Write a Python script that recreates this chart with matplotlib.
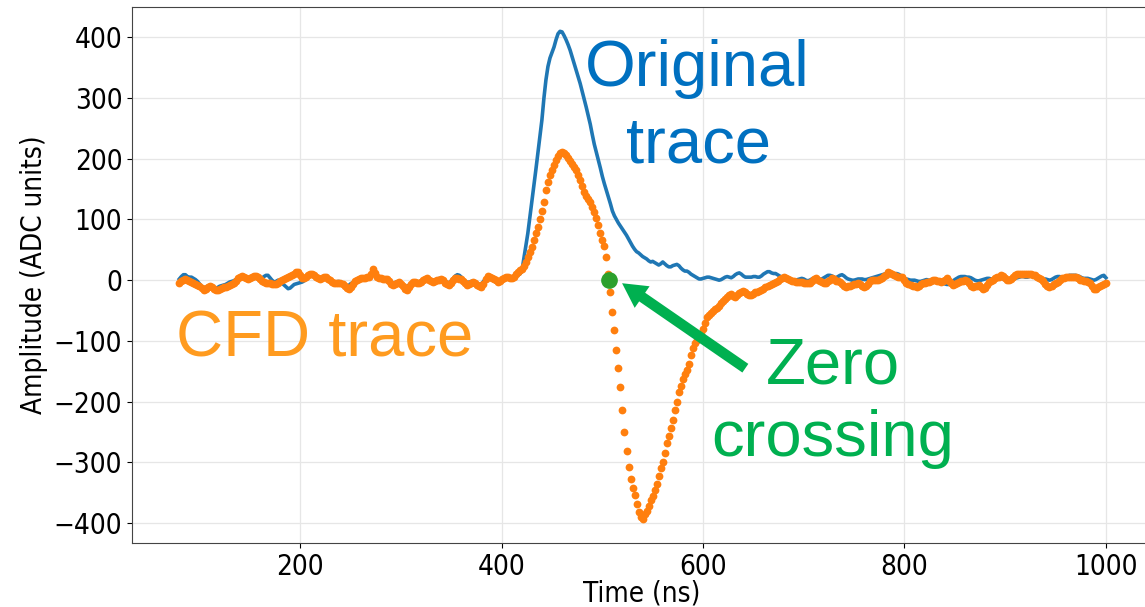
import numpy as np
import matplotlib
matplotlib.use("Agg")
import matplotlib.pyplot as plt

plt.rcParams['font.family'] = ['DejaVu Sans']
plt.rcParams['font.stretch'] = 'condensed'

# sampling of both traces (ns)
t_start = 80
t_step = 2

# CFD trace (ADC units), one row = 20 ns
cfd_trace = [
    -5, -2, 1, 2, 0, -2, -3, -5, -7, -8,                  # 80
    -10, -13, -16, -15, -12, -10, -11, -14, -16, -16,     # 100
    -15, -13, -11, -11, -10, -8, -6, -4, -1, 3,           # 120
    6, 7, 5, 3, 2, 3, 5, 7, 7, 5,                         # 140
    2, -1, -3, -4, -5, -5, -6, -7, -7, -5,                # 160
    -2, 0, 2, 4, 6, 7, 9, 11, 13, 13,                     # 180
    8, 3, 3, 6, 9, 11, 11, 8, 5, 3,                       # 200
    2, 3, 5, 5, 2, 0, -3, -4, -5, -5,                     # 220
    -5, -7, -10, -13, -14, -12, -7, -2, 0, 2,             # 240
    3, 4, 4, 5, 5, 10, 19, 12, 6, 4,                      # 260
    3, 2, 2, 2, -2, -6, -8, -6, -4, -3,                   # 280
    -6, -10, -14, -16, -11, -6, -3, -3, -4, -5,           # 300
    -3, 0, 2, 3, 1, -1, -3, -2, 0, 1,                     # 320
    2, 0, -4, -7, -8, -4, 1, 4, 3, 2,                     # 340
    2, -1, -5, -8, -6, -4, -3, -5, -8, -10,               # 360
    -11, -6, 2, 7, 6, 4, 2, 0, -3, -1,                    # 380
    2, 4, 5, 5, 4, 3, 6, 10, 14, 16,                      # 400
    19, 24, 30, 38, 46, 55, 66, 78, 88, 100,              # 420
    114, 128, 148, 161, 173, 182, 190, 198, 204, 210,     # 440
    212, 210, 206, 201, 196, 191, 187, 181, 174, 165,     # 460
    155, 146, 138, 133, 128, 120, 112, 102, 91, 77,       # 480
    66, 56, 38, 10, -19, -52, -82, -115, -144, -176,      # 500
    -214, -250, -281, -307, -328, -342, -354, -368, -382, -390,  # 520
    -393, -386, -380, -372, -362, -355, -346, -336, -322, -310,  # 540
    -299, -284, -268, -256, -244, -230, -214, -200, -184, -174,  # 560
    -162, -154, -148, -138, -124, -111, -103, -98, -93, -88,     # 580
    -80, -70, -61, -57, -54, -51, -48, -45, -42, -38,     # 600
    -34, -31, -27, -24, -23, -26, -27, -24, -21, -19,     # 620
    -18, -20, -22, -25, -24, -22, -20, -19, -18, -16,     # 640
    -14, -12, -10, -8, -6, -5, -3, -1, 2, 4,              # 660
    5, 4, 2, 0, -1, -2, -3, -3, -3, -3,                   # 680
    -4, -5, -5, -5, -2, 2, 3, 0, -2, -3,                  # 700
    -4, -5, -2, 1, 3, 2, -1, -2, -3, -6,                  # 720
    -9, -11, -10, -9, -8, -7, -6, -5, -6, -9,             # 740
    -11, -10, -6, -2, 0, 0, 0, 0, 2, 4,                   # 760
    7, 9, 13, 12, 10, 8, 7, 6, 6, 5,                      # 780
    0, -4, -7, -8, -9, -10, -11, -9, -7, -5,              # 800
    -4, -3, -3, -1, 0, 0, -1, -2, -3, -2,                 # 820
    1, 3, -1, -5, -8, -6, -4, -3, -2, -1,                 # 840
    0, -1, -5, -9, -11, -9, -9, -8, -11, -14,             # 860
    -13, -8, -3, -1, 1, 3, 5, 6, 8, 7,                    # 880
    3, 1, 0, 2, 6, 8, 10, 11, 11, 11,                     # 900
    11, 11, 11, 10, 9, 8, 6, 3, 2, -2,                    # 920
    -6, -10, -11, -9, -7, -5, -3, 0, 3, 4,                # 940
    5, 5, 5, 5, 5, 5, 3, 1, 0, -1,                        # 960
    -2, -3, -5, -9, -14, -14, -11, -9, -8, -7,            # 980
    -5,                                                   # 1000
]

# original trace (ADC units), one row = 20 ns
orig_trace = [
    2, 6, 9, 9, 6, 5, 5, 3, 1, -2,                        # 80
    -6, -10, -12, -12, -10, -9, -10, -12, -13, -12,       # 100
    -10, -9, -8, -7, -5, -3, -2, -1, 1, 3,                # 120
    5, 6, 4, 3, 2, 4, 6, 6, 4, 2,                         # 140
    1, 3, 6, 8, 8, 4, 0, -3, -2, 0,                       # 160
    -2, -5, -8, -11, -14, -13, -10, -7, -6, -5,           # 180
    -4, -3, -1, 2, 5, 8, 9, 7, 4, 2,                      # 200
    3, 5, 6, 4, 1, -1, -2, -3, -3, -2,                    # 220
    -3, -5, -8, -10, -9, -6, -4, -2, -1, 1,               # 240
    3, 4, 5, 6, 6, 8, 11, 9, 6, 4,                        # 260
    3, 2, 0, -2, -4, -5, -5, -4, -3, -4,                  # 280
    -7, -10, -11, -10, -8, -5, -2, -1, -2, -3,            # 300
    -2, 1, 3, 4, 2, 0, -1, 0, 1, 3,                       # 320
    2, 0, -2, -4, -4, -1, 3, 7, 9, 8,                     # 340
    5, 1, -2, -4, -3, -2, -2, -4, -6, -7,                 # 360
    -6, -2, 2, 4, 3, 1, -1, -3, -4, -2,                   # 380
    1, 3, 4, 4, 3, 2, 4, 6, 8, 10,                        # 400
    14, 35, 55, 77, 103, 130, 156, 182, 209, 237,         # 420
    264, 300, 330, 352, 366, 375, 384, 396, 406, 410,     # 440
    409, 403, 396, 388, 379, 368, 357, 346, 335, 324,     # 460
    311, 298, 285, 271, 257, 240, 224, 211, 198, 185,     # 480
    171, 159, 148, 137, 126, 114, 106, 100, 94, 89,       # 500
    84, 79, 74, 68, 62, 56, 51, 47, 45, 42,               # 520
    39, 37, 35, 32, 30, 31, 29, 27, 25, 27,               # 540
    30, 27, 24, 22, 22, 24, 25, 26, 24, 20,               # 560
    17, 15, 15, 13, 10, 8, 6, 4, 2, 2,                    # 580
    3, 4, 5, 5, 4, 3, 2, 1, 0, 1,                         # 600
    3, 5, 6, 5, 4, 6, 9, 11, 12, 10,                      # 620
    7, 5, 5, 5, 5, 6, 6, 5, 5, 7,                         # 640
    10, 12, 14, 14, 12, 11, 11, 9, 7, 5,                  # 660
    3, 2, 1, 0, -1, -1, 0, 1, 2, 3,                       # 680
    2, 0, -1, 0, 2, 3, 3, 2, 1, 2,                        # 700
    4, 6, 8, 8, 7, 5, 4, 6, 8, 9,                         # 720
    7, 4, 2, 1, 0, 0, 1, 2, 2, 2,                         # 740
    1, 1, 2, 3, 4, 5, 6, 7, 8, 9,                         # 760
    10, 11, 11, 11, 10, 10, 11, 10, 8, 5,                 # 780
    3, 2, 1, 0, 0, 0, -1, -2, -2, -1,                     # 800
    0, 1, 0, -1, -2, -2, -1, 0, -2, -4,                   # 820
    -6, -7, -7, -5, -2, 1, 3, 5, 6, 6,                    # 840
    6, 5, 5, 4, 2, 0, -1, -1, 0, 1,                       # 860
    2, 3, 3, 2, 2, 3, 4, 4, 3, 2,                         # 880
    1, 0, -1, -1, 1, 3, 4, 5, 6, 6,                       # 900
    5, 5, 6, 7, 6, 4, 3, 2, 1, 1,                         # 920
    2, 1, 0, 1, 3, 5, 6, 6, 5, 5,                         # 940
    6, 7, 8, 8, 8, 8, 7, 6, 4, 3,                         # 960
    3, 3, 2, 1, 0, 1, 3, 5, 7, 8,                         # 980
    4,                                                    # 1000
]

zero_cross_t = 507
zero_cross_v = 0

t_orig = t_start + t_step * np.arange(len(orig_trace))
t_cfd = t_start + t_step * np.arange(len(cfd_trace))

fig = plt.figure(figsize=(11.45, 6.07), dpi=100)
ax = fig.add_axes([0.1153, 0.1054, 0.891, 0.883])

ax.plot(t_orig, orig_trace, color='#1f77b4', lw=2.6)
ax.plot(t_cfd, cfd_trace, 'o', color='#ff7f0e', ms=5.6, mew=0)
ax.plot([zero_cross_t], [zero_cross_v], 'o', color='#2ca02c', ms=11, zorder=5)

ax.set_xlim(33, 1046)
ax.set_ylim(-433, 450)
ax.set_xticks([200, 400, 600, 800, 1000])
ax.set_yticks(range(-400, 401, 100))
ax.tick_params(labelsize=20)
ax.grid(True, color='#e6e6e6', lw=0.9)
ax.set_axisbelow(True)
for s in ax.spines.values():
    s.set_color('#444444')
ax.spines['right'].set_visible(False)
ax.set_xlabel('Time (ns)', fontsize=20, labelpad=-1)
ax.set_ylabel('Amplitude (ADC units)', fontsize=20)

# annotations
big = dict(fontsize=47, family=['Liberation Sans', 'DejaVu Sans'],
           ha='center', va='baseline', stretch='normal')
ax.text(594, 320, 'Original', color='#0070c0', **big)
ax.text(595, 194, 'trace', color='#0070c0', **big)
ax.text(224, -125, 'CFD trace', color='#ff9b1f', **big)
ax.text(729, -171, 'Zero', color='#00b050', **big)
ax.text(729, -290, 'crossing', color='#00b050', **big)

ax.annotate('', xy=(519.6, -5), xytext=(642, -145),
            arrowprops=dict(arrowstyle='simple,head_length=0.65,head_width=0.7,tail_width=0.28',
                            color='#00b050', lw=0, mutation_scale=27,
                            shrinkA=0, shrinkB=0))

fig.savefig('out.png', dpi=100)
